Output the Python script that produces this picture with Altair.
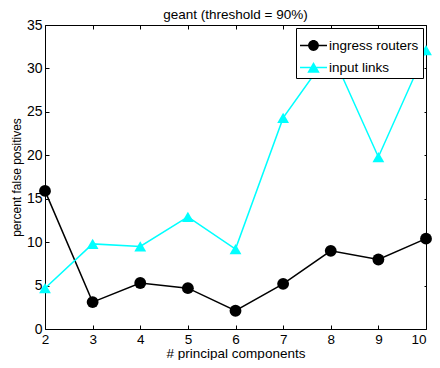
import altair as alt
import pandas as pd

components = [2, 3, 4, 5, 6, 7, 8, 9, 10]
ingress_routers = [15.9, 3.1, 5.3, 4.7, 2.1, 5.2, 9.0, 8.0, 10.4]
input_links = [4.7, 9.8, 9.5, 12.9, 9.2, 24.3, 32.0, 19.8, 32.1]
series_names = ["ingress routers", "input links"]
series_colors = ["#000000", "#00FFFF"]
y_ticks = [0, 5, 10, 15, 20, 25, 30, 35]

df = pd.DataFrame({
    "pc": components * 2,
    "value": ingress_routers + input_links,
    "series": [series_names[0]] * len(components) + [series_names[1]] * len(components),
})

FONT = "Liberation Sans"
W_EST, H_EST = 383, 304   # expected plot size, used for the inward tick dashes
TICK = 4

xscale = alt.Scale(domain=[2, 10], nice=False, zero=False)
yscale = alt.Scale(domain=[0, 35], nice=False)
color_scale = alt.Scale(domain=series_names, range=series_colors)

# legend symbols: a line with the marker on it
circle_line = ("M-1,-0.055H1V0.055H-1Z "
               "M-0.4,0A0.4,0.4 0 1,1 0.4,0A0.4,0.4 0 1,1 -0.4,0Z")
tri_line = ("M-1,-0.055H1V0.055H-1Z "
            "M0,-0.4L0.46,0.38L-0.46,0.38Z")

base = alt.Chart(df)

# inward ticks on all four sides are drawn as dashed grid lines
main_x = alt.Axis(title="# principal components", values=components, tickSize=0,
                  domain=False, grid=True, gridColor="black", gridOpacity=1, gridWidth=1,
                  gridDash=[TICK, H_EST - 2 * TICK, TICK],
                  labelPadding=3.5, labelFontSize=13.5, titlePadding=0.5, titleFontSize=13.5,
                  orient="bottom",
                  labelAlign=alt.ExprRef(expr="datum.value == 10 ? 'right' : 'center'"))
main_y = alt.Axis(title="percent false positives", values=y_ticks, tickSize=0,
                  domain=False, grid=True, gridColor="black", gridOpacity=1, gridWidth=1,
                  gridDash=[TICK, W_EST - 2 * TICK, TICK],
                  labelPadding=3, labelFontSize=14, titlePadding=3, titleFontSize=12,
                  orient="left")

lines = base.mark_line(strokeWidth=1.5).encode(
    x=alt.X("pc:Q", scale=xscale, axis=main_x),
    y=alt.Y("value:Q", scale=yscale, axis=main_y),
    color=alt.Color("series:N", scale=color_scale, legend=None),
)

points = base.mark_point(filled=True, size=140, opacity=1).encode(
    x=alt.X("pc:Q", scale=xscale),
    y=alt.Y("value:Q", scale=yscale),
    color=alt.Color("series:N", scale=color_scale, legend=None),
    shape=alt.Shape("series:N", scale=alt.Scale(domain=series_names, range=["circle", "triangle-up"]), legend=None),
)

leg_props = dict(title=None, orient="top-right", offset=3, strokeColor="black",
                 fillColor="white", padding=4, labelFont=FONT, labelFontSize=13.5,
                 labelColor="black", symbolSize=729, symbolOpacity=1,
                 symbolStrokeWidth=0, rowPadding=2, labelOffset=2)

legend_layer = base.mark_point(filled=True, opacity=0).encode(
    x=alt.X("pc:Q", scale=xscale),
    y=alt.Y("value:Q", scale=yscale),
    color=alt.Color("series:N", scale=color_scale, legend=alt.Legend(**leg_props)),
    shape=alt.Shape("series:N", scale=alt.Scale(domain=series_names, range=[circle_line, tri_line]),
                    legend=alt.Legend(**leg_props)),
)

chart = alt.layer(lines, points, legend_layer).resolve_scale(
    color="independent", shape="independent"
).properties(
    width=424, height=352,
    autosize=alt.AutoSizeParams(type="fit", contains="padding"),
    title=alt.TitleParams("geant (threshold = 90%)", fontSize=13.5, fontWeight="normal",
                          font=FONT, color="black", offset=-3.5, anchor="middle"),
    padding={"left": 2, "top": 0, "right": 0, "bottom": 0},
).configure_view(
    stroke="black", strokeWidth=1
).configure_axis(
    labelFont=FONT, labelColor="black",
    titleFont=FONT, titleColor="black", titleFontWeight="normal",
)

chart.save("out.html", embed_options={"renderer": "svg", "actions": False})
